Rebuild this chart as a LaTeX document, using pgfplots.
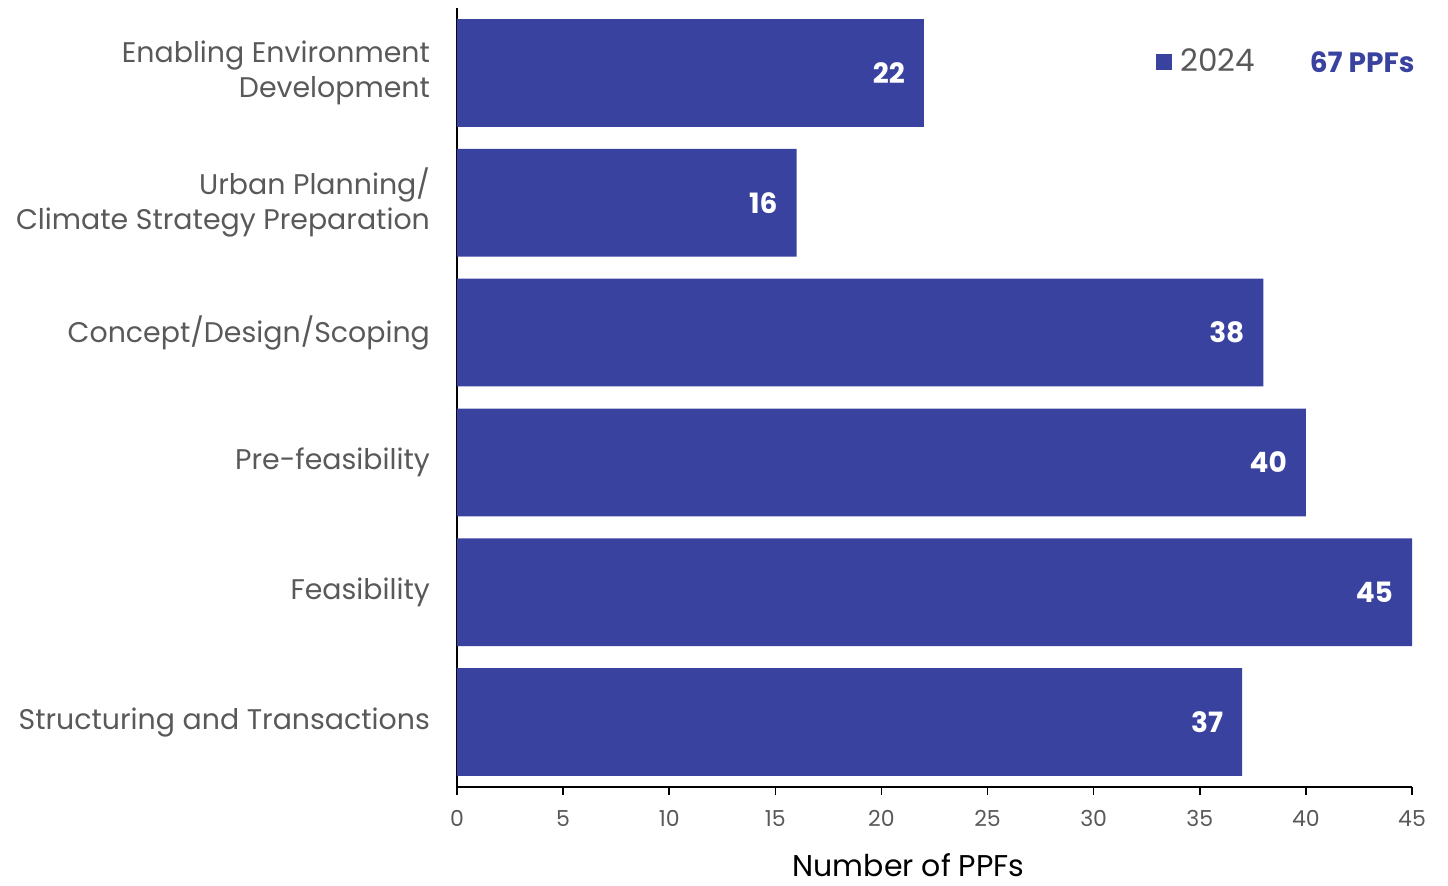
\documentclass[border=0pt]{standalone}
\usepackage{fontspec}
\setmainfont{Poppins}
\usepackage{pgfplots}
\pgfplotsset{compat=1.18}
\definecolor{barblue}{HTML}{3A42A0}
\definecolor{txtgray}{HTML}{595959}
\begin{document}
\begin{tikzpicture}
\begin{axis}[
  xbar,
  scale only axis,
  width=477.5pt, height=389.5pt,
  xmin=0, xmax=45, ymin=-0.5, ymax=5.5,
  y dir=reverse,
  bar width=0.83,
  axis x line*=bottom, axis y line*=left,
  axis line style={black, line width=1pt},
  xtick={0,5,...,45}, ytick={0,1,2,3,4,5},
  yticklabels={{Enabling Environment\\Development},{Urban Planning/\\Climate Strategy Preparation},{Concept/Design/Scoping},{Pre-feasibility},{Feasibility},{Structuring and Transactions}},
  yticklabel style={align=right, font=\fontsize{14.2}{17.5}\selectfont, text=txtgray, xshift=-6pt},
  y tick style={draw=none},
  tick align=outside,
  major tick length=4pt,
  x tick style={black, line width=0.8pt},
  xticklabel style={font=\fontsize{11}{13}\selectfont, text=txtgray, yshift=-4pt},
  /pgf/number format/assume math mode=true,
  xlabel={Number of PPFs},
  xlabel style={font=\fontsize{15}{18}\selectfont, text=black, inner sep=0pt, yshift=-10pt, xshift=-13pt},
  nodes near coords,
  point meta=x,
  every node near coord/.append style={anchor=east, text=white, font=\bfseries\fontsize{14}{16}\selectfont, xshift=-6pt},
  legend style={draw=none, fill=none, at={(rel axis cs:0.732,0.931)}, anchor=west, font=\fontsize{15.5}{18}\selectfont, text=txtgray, inner sep=0pt},
  legend image code/.code={\fill[barblue] (0pt,-4pt) rectangle (8pt,4pt);},
  legend cell align=left,
  clip=false,
]
\addplot[fill=barblue, draw=none] coordinates {(22,0) (16,1) (38,2) (40,3) (45,4) (37,5)};
\addlegendentry{\hspace{2pt}2024}
\node[anchor=east, text=barblue, font=\bfseries\fontsize{14}{16}\selectfont, inner sep=0pt] at (rel axis cs:1.003,0.931) {67 PPFs};
\end{axis}
\path ([shift={(-228.5pt,-49.5pt)}]current axis.south west) rectangle ([shift={(18pt,4pt)}]current axis.north east);
\end{tikzpicture}
\end{document}
